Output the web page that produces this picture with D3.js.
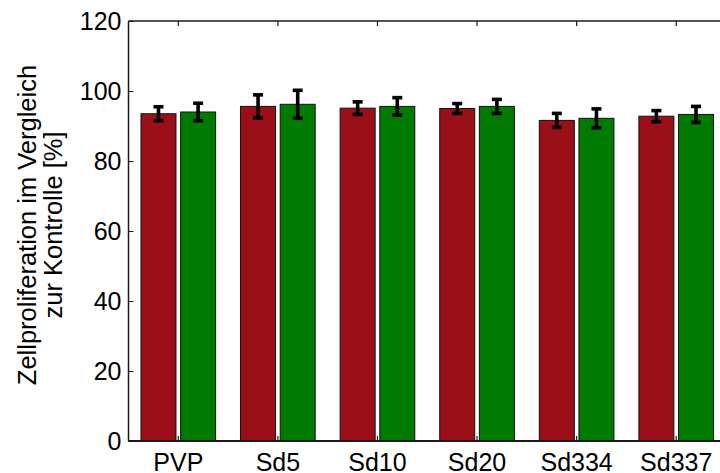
<!DOCTYPE html>
<html>
<head>
<meta charset="utf-8">
<script src="https://cdn.jsdelivr.net/npm/d3@7"></script>
<style>
  html, body { margin: 0; padding: 0; background: #fff; }
  svg { display: block; font-family: "Liberation Sans", Arial, sans-serif; }
</style>
</head>
<body>
<svg id="chart" width="720" height="473"></svg>
<script>
// Cell proliferation relative to control, two series per substance
const categories = ["PVP", "Sd5", "Sd10", "Sd20", "Sd334", "Sd337"];
const seriesNames = ["A", "B"];
const seriesColors = ["#9b0f19", "#007a00"];
const valuesA = [93.5, 95.6, 95.1, 95.0, 91.6, 92.8];
const valuesB = [94.0, 96.2, 95.6, 95.6, 92.2, 93.3];
const errorsA = [2.0, 3.3, 1.8, 1.4, 2.0, 1.6];
const errorsB = [2.5, 4.0, 2.5, 2.0, 2.7, 2.3];
const yTicks = [0, 20, 40, 60, 80, 100, 120];
const yLabelLines = ["Zellproliferation im Vergleich", "zur Kontrolle [%]"];

const svg = d3.select("#chart");
const plotLeft = 128.5, plotTop = 21, plotBottom = 441, plotRight = 726;
const tickFont = 25;

const x = d3.scaleBand().domain(categories).range([plotLeft, plotRight]).padding(0);
const y = d3.scaleLinear().domain([0, 120]).range([plotBottom, plotTop]);
const half = x.bandwidth() * 0.398;
const xs = d3.scaleBand().domain(seriesNames).range([-half, half])
  .paddingInner(0.117).paddingOuter(0.0585);

const rows = [];
categories.forEach((c, i) => {
  rows.push({ cat: c, s: "A", v: valuesA[i], e: errorsA[i], color: seriesColors[0] });
  rows.push({ cat: c, s: "B", v: valuesB[i], e: errorsB[i], color: seriesColors[1] });
});
const cx = d => x(d.cat) + x.bandwidth() / 2 + xs(d.s) + xs.bandwidth() / 2;

// bars
svg.append("g").selectAll("rect").data(rows).join("rect")
  .attr("x", d => x(d.cat) + x.bandwidth() / 2 + xs(d.s))
  .attr("width", xs.bandwidth())
  .attr("y", d => y(d.v))
  .attr("height", d => y(0) - y(d.v))
  .attr("fill", d => d.color)
  .attr("stroke", "#111")
  .attr("stroke-width", 1);

// error bars
const eb = svg.append("g").attr("stroke", "#000").attr("stroke-width", 3.6).attr("fill", "none");
eb.selectAll("line.stem").data(rows).join("line").attr("class", "stem")
  .attr("x1", cx).attr("x2", cx)
  .attr("y1", d => y(d.v + d.e)).attr("y2", d => y(d.v - d.e));
eb.selectAll("line.capTop").data(rows).join("line").attr("class", "capTop")
  .attr("x1", d => cx(d) - 5).attr("x2", d => cx(d) + 5)
  .attr("y1", d => y(d.v + d.e)).attr("y2", d => y(d.v + d.e));
eb.selectAll("line.capBot").data(rows).join("line").attr("class", "capBot")
  .attr("x1", d => cx(d) - 5).attr("x2", d => cx(d) + 5)
  .attr("y1", d => y(d.v - d.e)).attr("y2", d => y(d.v - d.e));

// axes box
const axisColor = "#1a1a1a";
svg.append("line").attr("x1", plotLeft).attr("x2", plotLeft).attr("y1", plotTop).attr("y2", plotBottom)
  .attr("stroke", axisColor).attr("stroke-width", 1.5);
svg.append("line").attr("x1", plotLeft).attr("x2", plotRight).attr("y1", plotTop).attr("y2", plotTop)
  .attr("stroke", axisColor).attr("stroke-width", 1.5);
svg.append("line").attr("x1", plotLeft).attr("x2", plotRight).attr("y1", plotBottom).attr("y2", plotBottom)
  .attr("stroke", axisColor).attr("stroke-width", 2);

// y axis with inward ticks
const yAxis = d3.axisLeft(y).tickValues(yTicks).tickSizeInner(-5).tickSizeOuter(0).tickPadding(7);
const gy = svg.append("g").attr("transform", `translate(${plotLeft},0)`).call(yAxis);
gy.select(".domain").remove();
gy.selectAll(".tick line").attr("stroke", axisColor).attr("stroke-width", 1);
gy.selectAll(".tick text").attr("font-size", tickFont).attr("fill", "#000")
  .attr("font-family", "Liberation Sans, Arial, sans-serif");

// x axis with inward ticks at bottom and top
const xAxis = d3.axisBottom(x).tickSizeInner(-5).tickSizeOuter(0).tickPadding(12);
const gx = svg.append("g").attr("transform", `translate(0,${plotBottom})`).call(xAxis);
gx.select(".domain").remove();
gx.selectAll(".tick line").attr("stroke", axisColor).attr("stroke-width", 1.2);
gx.selectAll(".tick text").attr("font-size", tickFont).attr("fill", "#000")
  .attr("font-family", "Liberation Sans, Arial, sans-serif");

const xTop = d3.axisTop(x).tickSizeInner(-5).tickSizeOuter(0).tickFormat("");
const gxt = svg.append("g").attr("transform", `translate(0,${plotTop})`).call(xTop);
gxt.select(".domain").remove();
gxt.selectAll(".tick line").attr("stroke", axisColor).attr("stroke-width", 1.2);

// y label
const yl = svg.append("text")
  .attr("transform", "translate(36,225) rotate(-90)")
  .attr("text-anchor", "middle")
  .attr("font-size", 25.5)
  .attr("fill", "#000");
yl.selectAll("tspan").data(yLabelLines).join("tspan")
  .attr("x", 0)
  .attr("dy", (d, i) => i === 0 ? 0 : 26)
  .text(d => d);
</script>
</body>
</html>
